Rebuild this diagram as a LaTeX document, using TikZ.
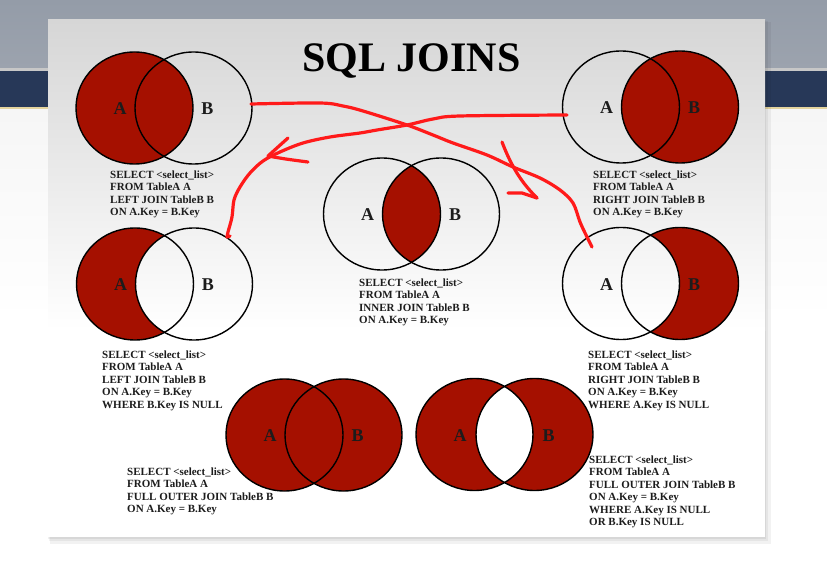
\documentclass[tikz,border=0pt]{standalone}
\usepackage{fontspec}
\setmainfont{Liberation Serif}
\definecolor{joinred}{RGB}{165,16,0}
\definecolor{penred}{RGB}{255,26,26}
\definecolor{topgray}{RGB}{156,163,174}
\definecolor{topgraydark}{RGB}{148,156,168}
\definecolor{navyband}{RGB}{39,56,88}
\definecolor{goldline}{RGB}{228,212,158}
\definecolor{slidetop}{RGB}{214,214,214}
\definecolor{pagebg}{RGB}{246,246,246}
\definecolor{inktext}{RGB}{28,28,28}
\tikzset{
  vellipse/.style={x radius=58.5pt, y radius=56pt},
  venn/.style={draw=black, line width=1.4pt},
  setlabel/.style={font=\fontsize{18}{18}\selectfont\bfseries, text=inktext, inner sep=0},
  sqlcode/.style={anchor=north west, inner sep=0, align=left, text=inktext,
    font=\fontsize{11}{12.5}\selectfont\bfseries},
  scribble/.style={draw=penred, line width=3.2pt, line cap=round, line join=round},
}
\begin{document}
\begin{tikzpicture}[x=1pt,y=-1pt]
\useasboundingbox (0,0) rectangle (827,561);
% ---------- screen background ----------
\fill[white] (0,0) rectangle (827,561);
\shade[top color=topgraydark, bottom color=topgray] (0,0) rectangle (827,68);
\fill[black!22!white] (0,68) rectangle (827,71);
\fill[navyband] (0,71) rectangle (827,107);
\fill[goldline] (0,107) rectangle (827,110);
\shade[top color=pagebg, bottom color=white] (0,110) rectangle (827,320);
% ---------- slide with shadow ----------
\fill[black, opacity=0.05] (50,22) rectangle (771,544);
\fill[black, opacity=0.05] (49,21) rectangle (768,541);
\fill[black, opacity=0.06] (48,20) rectangle (766,539);
\shade[top color=slidetop, bottom color=white] (48,20) rectangle (765,330);
\fill[white] (48,330) rectangle (765,537);
% ---------- title ----------
\node[anchor=base, inner sep=0, text=black, font=\fontsize{42}{42}\selectfont\bfseries]
  (title) at (411.5,72) {SQL JOINS};
% ---------- set centres ----------
\coordinate (tlA) at (134.5,108);   \coordinate (tlB) at (193.5,108);
\coordinate (trA) at (621,107);     \coordinate (trB) at (680,107);
\coordinate (inA) at (382,214);     \coordinate (inB) at (441,214);
\coordinate (mlA) at (135,284);     \coordinate (mlB) at (194,284);
\coordinate (mrA) at (621,283.5);   \coordinate (mrB) at (680,283.5);
\coordinate (blA) at (284.5,435);   \coordinate (blB) at (343.5,435);
\coordinate (brA) at (474.5,434.5); \coordinate (brB) at (534.5,434.5);
% ---------- fills ----------
% LEFT JOIN
\fill[joinred] (tlA) ellipse[vellipse];
% RIGHT JOIN
\fill[joinred] (trB) ellipse[vellipse];
% INNER JOIN
\begin{scope}
  \clip (inA) ellipse[vellipse];
  \fill[joinred] (inB) ellipse[vellipse];
\end{scope}
% LEFT JOIN, B.Key IS NULL
\begin{scope}
  \clip (mlA) ellipse[vellipse];
  \fill[joinred, even odd rule] (mlA) ellipse[vellipse] (mlB) ellipse[vellipse];
\end{scope}
% RIGHT JOIN, A.Key IS NULL
\begin{scope}
  \clip (mrB) ellipse[vellipse];
  \fill[joinred, even odd rule] (mrA) ellipse[vellipse] (mrB) ellipse[vellipse];
\end{scope}
% FULL OUTER JOIN
\fill[joinred] (blA) ellipse[vellipse] (blB) ellipse[vellipse];
% FULL OUTER JOIN, exclusive
\fill[joinred, even odd rule] (brA) ellipse[vellipse] (brB) ellipse[vellipse];
% ---------- outlines ----------
\foreach \p in {tl,tr,in,ml,mr,bl,br}{
  \draw[venn] (\p A) ellipse[vellipse];
  \draw[venn] (\p B) ellipse[vellipse];
}
% ---------- set labels ----------
\foreach \p in {tl,tr,in,ml,mr,bl,br}{
  \node[setlabel] (\p Alabel) at ([shift={(-14.5,1)}]\p A) {A};
  \node[setlabel] (\p Blabel) at ([shift={(14,1)}]\p B) {B};
}
% ---------- SQL text ----------
\node[sqlcode] (tlcode) at (110,170.5) {SELECT <select\_list>\\FROM TableA A\\LEFT JOIN TableB B\\ON A.Key = B.Key};
\node[sqlcode] (trcode) at (593,170.5) {SELECT <select\_list>\\FROM TableA A\\RIGHT JOIN TableB B\\ON A.Key = B.Key};
\node[sqlcode] (incode) at (359,278.5) {SELECT <select\_list>\\FROM TableA A\\INNER JOIN TableB B\\ON A.Key = B.Key};
\node[sqlcode] (mlcode) at (102,350.5) {SELECT <select\_list>\\FROM TableA A\\LEFT JOIN TableB B\\ON A.Key = B.Key\\WHERE B.Key IS NULL};
\node[sqlcode] (mrcode) at (588,350.5) {SELECT <select\_list>\\FROM TableA A\\RIGHT JOIN TableB B\\ON A.Key = B.Key\\WHERE A.Key IS NULL};
\node[sqlcode] (blcode) at (127,467.5) {SELECT <select\_list>\\FROM TableA A\\FULL OUTER JOIN TableB B\\ON A.Key = B.Key};
\node[sqlcode] (brcode) at (589,455.5) {SELECT <select\_list>\\FROM TableA A\\FULL OUTER JOIN TableB B\\ON A.Key = B.Key\\WHERE A.Key IS NULL\\OR B.Key IS NULL};
% ---------- red hand-drawn strokes ----------
\coordinate (p1s) at (251,104);
\coordinate (p1e) at (592,247);
\coordinate (p2s) at (567,115);
\coordinate (p2e) at (227,237);
\draw[scribble] plot[smooth, tension=0.55] coordinates {(p1s) (320,103) (343,106) (363,111) (407,125) (433,135) (453,143) (487,155) (513,167) (540,178) (560,190) (573,203) (580,222) (587,237) (p1e)};
\draw[scribble] plot[smooth, tension=0.55] coordinates {(p2s) (460,116) (433,119) (407,125) (377,130) (360,133) (330,137) (303,143) (280,152) (263,161) (250,173) (240,187) (234,200) (232,217) (228,232) (p2e)};
\draw[scribble] (p2e) -- (230,236);
% arrow marks
\draw[scribble] (288,138) -- (268,156) .. controls (285,159) .. (308,162);
\draw[scribble] (502,142) .. controls (512,168) and (522,183) .. (537,198);
\draw[scribble] (508,193) -- (522,193) -- (537,198);
\end{tikzpicture}
\end{document}
